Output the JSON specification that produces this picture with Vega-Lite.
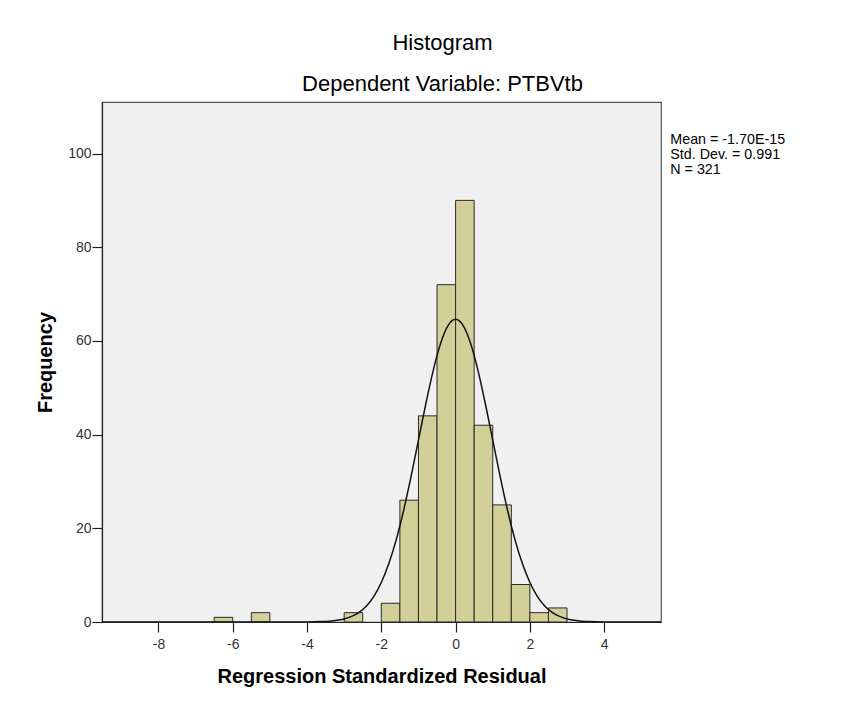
{
  "$schema": "https://vega.github.io/schema/vega-lite/v6.json",
  "autosize": {"type": "none"},
  "width": 559,
  "height": 520,
  "padding": {"left": 102, "top": 102, "right": 206, "bottom": 80},
  "background": "white",
  "view": {"fill": "#f0f0f0", "stroke": "#555555", "strokeWidth": 1.2},
  "title": {
    "text": "Histogram",
    "subtitle": "Dependent Variable: PTBVtb",
    "anchor": "middle",
    "frame": "group",
    "dx": 61,
    "offset": 6,
    "font": "Liberation Sans",
    "fontSize": 22,
    "fontWeight": "normal",
    "color": "#000000",
    "subtitleFont": "Liberation Sans",
    "subtitleFontSize": 22,
    "subtitleColor": "#000000",
    "subtitlePadding": 19
  },
  "config": {
    "axis": {
      "grid": false,
      "domainColor": "#222222",
      "domainWidth": 1.2,
      "tickColor": "#222222",
      "tickWidth": 1.2,
      "tickSize": 10,
      "labelFont": "Liberation Sans",
      "labelFontSize": 14,
      "labelColor": "#333333",
      "labelExpr": "toString(datum.value)",
      "titleFont": "Liberation Sans",
      "titleFontSize": 20,
      "titleFontWeight": "bold",
      "titleColor": "#000000"
    }
  },
  "datasets": {
    "bins": [
      {"bin_start": -6.5, "bin_end": -6.0, "count": 1},
      {"bin_start": -5.5, "bin_end": -5.0, "count": 2},
      {"bin_start": -3.0, "bin_end": -2.5, "count": 2},
      {"bin_start": -2.0, "bin_end": -1.5, "count": 4},
      {"bin_start": -1.5, "bin_end": -1.0, "count": 26},
      {"bin_start": -1.0, "bin_end": -0.5, "count": 44},
      {"bin_start": -0.5, "bin_end": 0.0, "count": 72},
      {"bin_start": 0.0, "bin_end": 0.5, "count": 90},
      {"bin_start": 0.5, "bin_end": 1.0, "count": 42},
      {"bin_start": 1.0, "bin_end": 1.5, "count": 25},
      {"bin_start": 1.5, "bin_end": 2.0, "count": 8},
      {"bin_start": 2.0, "bin_end": 2.5, "count": 2},
      {"bin_start": 2.5, "bin_end": 3.0, "count": 3}
    ],
    "curve": [
      {"x": -9.52, "y": 0},
      {"x": -5.0, "y": 0.0},
      {"x": -4.4, "y": 0.003},
      {"x": -4.0, "y": 0.019},
      {"x": -3.8, "y": 0.041},
      {"x": -3.6, "y": 0.088},
      {"x": -3.4, "y": 0.18},
      {"x": -3.2, "y": 0.35},
      {"x": -3.0, "y": 0.66},
      {"x": -2.8, "y": 1.19},
      {"x": -2.6, "y": 2.07},
      {"x": -2.4, "y": 3.44},
      {"x": -2.2, "y": 5.49},
      {"x": -2.0, "y": 8.43},
      {"x": -1.8, "y": 12.41},
      {"x": -1.6, "y": 17.54},
      {"x": -1.4, "y": 23.81},
      {"x": -1.2, "y": 31.03},
      {"x": -1.0, "y": 38.83},
      {"x": -0.8, "y": 46.64},
      {"x": -0.6, "y": 53.78},
      {"x": -0.4, "y": 59.55},
      {"x": -0.2, "y": 63.30},
      {"x": 0.0, "y": 64.6},
      {"x": 0.2, "y": 63.30},
      {"x": 0.4, "y": 59.55},
      {"x": 0.6, "y": 53.78},
      {"x": 0.8, "y": 46.64},
      {"x": 1.0, "y": 38.83},
      {"x": 1.2, "y": 31.03},
      {"x": 1.4, "y": 23.81},
      {"x": 1.6, "y": 17.54},
      {"x": 1.8, "y": 12.41},
      {"x": 2.0, "y": 8.43},
      {"x": 2.2, "y": 5.49},
      {"x": 2.4, "y": 3.44},
      {"x": 2.6, "y": 2.07},
      {"x": 2.8, "y": 1.19},
      {"x": 3.0, "y": 0.66},
      {"x": 3.2, "y": 0.35},
      {"x": 3.4, "y": 0.18},
      {"x": 3.6, "y": 0.088},
      {"x": 3.8, "y": 0.041},
      {"x": 4.0, "y": 0.019},
      {"x": 4.4, "y": 0.003},
      {"x": 5.0, "y": 0.0},
      {"x": 5.53, "y": 0}
    ],
    "stats": [
      {"stat": "Mean = -1.70E-15"},
      {"stat": "Std. Dev. = 0.991"},
      {"stat": "N = 321"}
    ]
  },
  "layer": [
    {
      "data": {"name": "bins"},
      "mark": {"type": "rect", "fill": "#d3cf98", "stroke": "#2a2a2a", "strokeWidth": 1},
      "encoding": {
        "x": {
          "field": "bin_start",
          "type": "quantitative",
          "scale": {"domain": [-9.52, 5.53], "nice": false, "zero": false},
          "axis": {"values": [-8, -6, -4, -2, 0, 2, 4], "labelPadding": 5, "titlePadding": 15},
          "title": "Regression Standardized Residual"
        },
        "x2": {"field": "bin_end"},
        "y": {
          "field": "count",
          "type": "quantitative",
          "scale": {"domain": [0, 111], "nice": false},
          "axis": {"values": [0, 20, 40, 60, 80, 100], "labelPadding": 1, "titlePadding": 12},
          "title": "Frequency"
        },
        "y2": {"datum": 0}
      }
    },
    {
      "data": {"name": "curve"},
      "mark": {"type": "line", "color": "#111111", "strokeWidth": 1.5, "interpolate": "monotone", "clip": true},
      "encoding": {
        "x": {"field": "x", "type": "quantitative"},
        "y": {"field": "y", "type": "quantitative"}
      }
    },
    {
      "data": {"name": "stats"},
      "mark": {"type": "point", "opacity": 0},
      "encoding": {
        "color": {
          "field": "stat",
          "type": "nominal",
          "scale": {"domain": ["Mean = -1.70E-15", "Std. Dev. = 0.991", "N = 321"], "range": ["#000000", "#000000", "#000000"]},
          "legend": {
            "orient": "right",
            "offset": -5,
            "padding": 0,
            "title": " ",
            "titleFontSize": 14,
            "titlePadding": 17,
            "symbolSize": 0,
            "symbolStrokeWidth": 0,
            "symbolOpacity": 0,
            "labelOffset": 0,
            "labelFont": "Liberation Sans",
            "labelFontSize": 14.3,
            "labelColor": "#000000",
            "rowPadding": -2.5,
            "labelLimit": 300
          }
        }
      }
    }
  ]
}
